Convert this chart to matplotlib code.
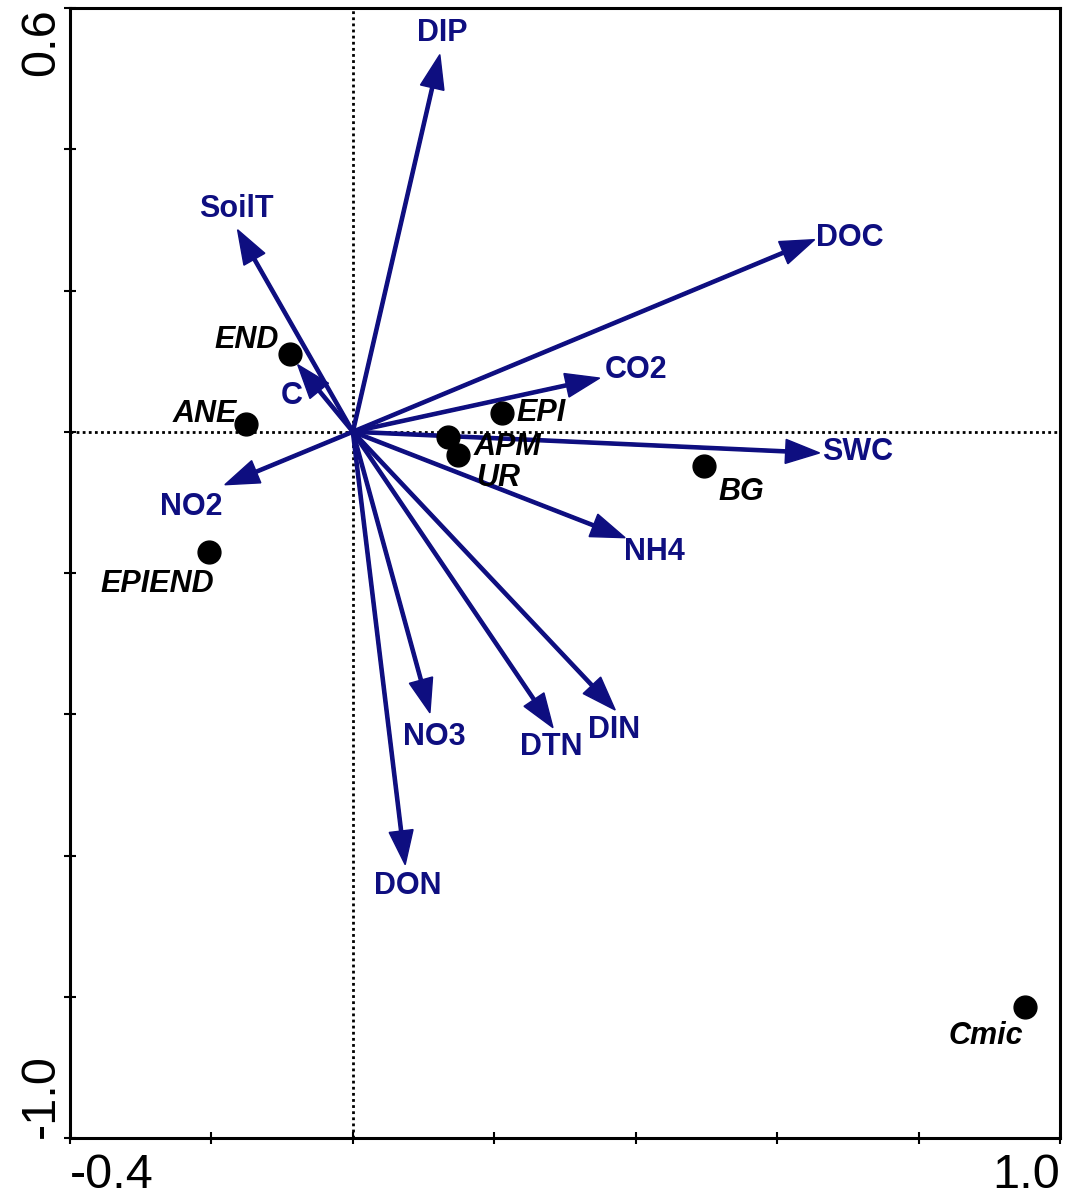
import matplotlib
matplotlib.use("Agg")
import matplotlib.pyplot as plt
import numpy as np

# --- Data ---
env_names = ["DIP", "SoilT", "DOC", "C", "CO2", "SWC", "NO2",
             "NH4", "NO3", "DTN", "DIN", "DON"]
env_x = [0.123, -0.163, 0.653, -0.078, 0.349, 0.660, -0.181,
         0.385, 0.109, 0.283, 0.371, 0.074]
env_y = [0.534, 0.286, 0.272, 0.095, 0.076, -0.030, -0.075,
         -0.150, -0.398, -0.419, -0.394, -0.613]

site_names = ["END", "ANE", "EPIEND", "EPI", "APM", "UR", "BG", "Cmic"]
site_x = [-0.089, -0.151, -0.204, 0.211, 0.134, 0.149, 0.496, 0.950]
site_y = [0.110, 0.011, -0.170, 0.027, -0.008, -0.033, -0.048, -0.814]

xticks = [-0.4, -0.2, 0.0, 0.2, 0.4, 0.6, 0.8, 1.0]
xticklabels = ["-0.4", "", "", "", "", "", "", "1.0"]
yticks = [-1.0, -0.8, -0.6, -0.4, -0.2, 0.0, 0.2, 0.4, 0.6]
yticklabels = ["-1.0", "", "", "", "", "", "", "", "0.6"]

# --- Label placement (layout only) ---
env_label_pos = {
    "DIP": (0.127, 0.565), "SoilT": (-0.164, 0.316), "DOC": (0.703, 0.274),
    "C": (-0.086, 0.050), "CO2": (0.400, 0.088), "SWC": (0.714, -0.028),
    "NO2": (-0.228, -0.106), "NH4": (0.427, -0.170), "NO3": (0.115, -0.432),
    "DTN": (0.281, -0.447), "DIN": (0.369, -0.423), "DON": (0.078, -0.643),
}
site_label_pos = {
    "END": (-0.150, 0.130), "ANE": (-0.209, 0.025), "EPIEND": (-0.277, -0.215),
    "EPI": (0.266, 0.027), "APM": (0.218, -0.021), "UR": (0.205, -0.066),
    "BG": (0.549, -0.085), "Cmic": (0.895, -0.856),
}

navy = "#0e0e80"
plt.rcParams["font.family"] = ["Liberation Sans", "DejaVu Sans"]

fig = plt.figure(figsize=(10.68, 12.04), dpi=100)
ax = fig.add_axes([70 / 1068, 66 / 1204, 990 / 1068, 1130 / 1204])

ax.axhline(0, color="black", linestyle=(0, (1, 1.2)), linewidth=2.0, zorder=1)
ax.axvline(0, color="black", linestyle=(0, (1, 1.2)), linewidth=2.0, zorder=1)

for name, ex, ey in zip(env_names, env_x, env_y):
    ax.arrow(0, 0, ex, ey, width=0.0045, head_width=0.034, head_length=0.048,
             length_includes_head=True, color=navy, zorder=3)
    lx, ly = env_label_pos[name]
    ax.text(lx, ly, name, color=navy, fontsize=22, fontweight="bold",
            ha="center", va="center", zorder=4)

ax.scatter(site_x, site_y, s=270, color="black", zorder=5)
for name in site_names:
    lx, ly = site_label_pos[name]
    ax.text(lx, ly, name, color="black", fontsize=22, fontweight="bold",
            fontstyle="italic", ha="center", va="center", zorder=6)

ax.set_xlim(-0.4, 1.0)
ax.set_ylim(-1.0, 0.6)
ax.set_xticks(xticks)
ax.set_xticklabels(xticklabels, fontsize=35)
ax.set_yticks(yticks)
ax.set_yticklabels(yticklabels, fontsize=35, rotation=90)

for sp in ax.spines.values():
    sp.set_linewidth(2.2)
ax.tick_params(direction="inout", length=9, width=1.5)
ax.tick_params(axis="x", pad=6)
ax.tick_params(axis="y", pad=0)

xl = ax.get_xticklabels()
xl[0].set_ha("left")
xl[-1].set_ha("right")
yl = ax.get_yticklabels()
yl[0].set_va("bottom")
yl[-1].set_va("top")

fig.savefig("out.png", dpi=100)
